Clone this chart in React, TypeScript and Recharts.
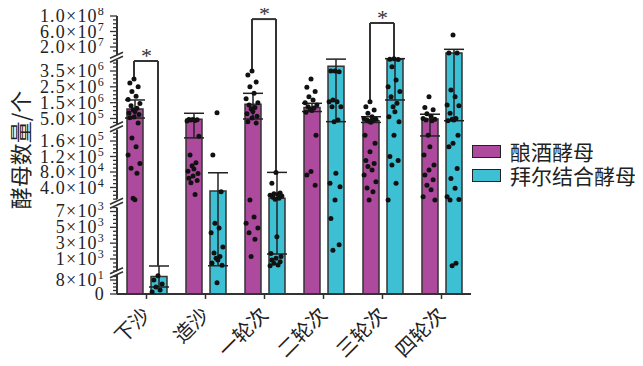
import React from 'react';
import { ComposedChart, Bar, XAxis, YAxis, Scatter, ErrorBar, ReferenceLine, ReferenceDot } from 'recharts';

// ---------------- data ----------------
const categories = ['下沙', '造沙', '一轮次', '二轮次', '三轮次', '四轮次'];
const seriesNames = ['酿酒酵母', '拜尔结合酵母'];

const yeastMean = [1.1e6, 4.5e5, 1.4e6, 1.2e6, 3.6e5, 4.7e5];
const yeastLow = [5.3e5, 1.68e5, 4.7e5, 9.4e5, 2.5e5, 1.73e5];
const yeastHigh = [1.67e6, 8.3e5, 2.09e6, 1.46e6, 6.1e5, 7.7e5];

const bayMean = [100, 3.1e4, 1.2e4, 3.8e6, 4.25e6, 4.5e6];
const bayLow = [40, 150, 1.63e3, 3.0e5, 1.67e6, 3.6e5];
const bayHigh = [115, 7.8e4, 7.9e4, 4.25e6, 4.28e6, 1.4e7];

const yeastDots = [
  [3.0e6, 2.75e6, 2.5e6, 2.2e6, 1.9e6, 1.7e6, 1.45e6, 1.3e6, 1.15e6, 1.05e6, 9.5e5, 8.5e5, 7.5e5, 6e5, 5.5e5, 2.2e5, 1.68e5, 1.45e5, 1.24e5, 1.02e5, 9e4, 7.7e4, 1.2e4, 8.5e3],
  [4.4e5, 4.3e5, 4.2e5, 4.0e5, 3.7e5, 3.4e5, 1.72e5, 1.24e5, 1.04e5, 9.6e4, 8.8e4, 8.2e4, 7.6e4, 7e4, 6.4e4, 5.8e4, 5.2e4, 2.2e4],
  [3.5e6, 3.25e6, 2.8e6, 2.5e6, 2.1e6, 1.75e6, 1.5e6, 1.35e6, 1.2e6, 1.1e6, 9.5e5, 8e5, 6.5e5, 5.3e5, 3e5, 2.1e5, 8e3, 6.3e3, 5.5e3, 4.9e3, 4.3e3, 3.5e3, 1.3e3],
  [3.0e6, 2.47e6, 2.2e6, 1.88e6, 1.67e6, 1.5e6, 1.35e6, 1.25e6, 1.16e6, 1.1e6, 1.0e6, 9e5, 1.75e5, 8.1e4, 7.2e4, 4.6e4],
  [1.56e6, 1.25e6, 1.04e6, 8.3e5, 6.1e5, 5e5, 4.5e5, 4e5, 3.6e5, 3.2e5, 2.6e5, 1.75e5, 1.54e5, 1.32e5, 1.1e5, 1.02e5, 9.4e4, 8.5e4, 7.2e4, 5.5e4, 3.9e4, 2.9e4, 8e3],
  [1.88e6, 1.2e6, 1.05e6, 8e5, 6.5e5, 5e5, 4.5e5, 4e5, 3.5e5, 1.75e5, 1.45e5, 1.24e5, 9.8e4, 8.5e4, 7.2e4, 6e4, 4.6e4, 3.4e4, 1.6e4, 8e3],
];
const bayDots = [
  [105, 80, 57, 40, 23, 11],
  [8.7e5, 1.24e5, 2.9e4, 5.5e3, 4.9e3, 4.3e3, 2.5e3, 1.76e3, 1.3e3, 1.1e3, 870, 500, 200, 65],
  [7.9e4, 5.1e4, 2.6e4, 2.4e4, 2.2e4, 2e4, 1.8e4, 1.5e4, 1.2e4, 1e4, 3.8e3, 1.7e3, 1.3e3, 1.1e3, 870, 650, 450, 250, 150],
  [3.5e6, 3.5e6, 3.45e6, 1.67e6, 1.56e6, 1.56e6, 1.25e6, 1.25e6, 4e5, 3e5, 7.7e4, 5.1e4, 4.2e4, 8e3, 6.1e3, 2.8e3, 2.1e3],
  [4.28e6, 4.25e6, 4.22e6, 3.77e6, 2.93e6, 2.5e6, 2.2e6, 1.88e6, 1.46e6, 1.25e6, 9.3e5, 6.1e5, 3e5, 1.75e5, 1.2e5, 1.1e5, 9.8e4, 5.1e4, 8e3],
  [5.1e7, 4.6e6, 4.5e6, 2.3e6, 1.88e6, 1.35e6, 1.3e6, 8.3e5, 5e5, 4.5e5, 4e5, 3.5e5, 1.75e5, 1.54e5, 1.45e5, 8.9e4, 6.3e4, 3.8e4, 1.6e4, 9e3, 8e3, 460, 150],
];

// significance brackets: category index, top value, left end, right end
const sigCategory = [0, 2, 4];
const sigTop = [4.13e6, 9.2e7, 8.2e7];
const sigLeftEnd = [2.93e6, 3.6e6, 1.67e6];
const sigRightEnd = [112, 8e4, 4.3e6];

// y tick labels (mantissa, exponent)
const yTickLabels = [
  { v: 1e8, m: '1.0', e: '8' }, { v: 6e7, m: '6.0', e: '7' }, { v: 2e7, m: '2.0', e: '7' },
  { v: 3.5e6, m: '3.5', e: '6' }, { v: 2.5e6, m: '2.5', e: '6' }, { v: 1.5e6, m: '1.5', e: '6' }, { v: 5e5, m: '5.0', e: '5' },
  { v: 1.6e5, m: '1.6', e: '5' }, { v: 1.2e5, m: '1.2', e: '5' }, { v: 8e4, m: '8.0', e: '4' }, { v: 4e4, m: '4.0', e: '4' },
  { v: 7e3, m: '7', e: '3' }, { v: 5e3, m: '5', e: '3' }, { v: 3e3, m: '3', e: '3' }, { v: 1e3, m: '1', e: '3' },
  { v: 80, m: '8', e: '1' }, { v: 0, m: '0', e: '' },
];

// ---------------- broken-axis scale (value -> linear display units) ----------------
type Seg = { hi: number; base: number; at: number; k: number; axis: [number, number]; tick: [number, number, number] };
const SEGS: Seg[] = [
  { hi: 110, base: 0, at: 0, k: 0.175, axis: [0, 110], tick: [0, 100, 20] },
  { hi: 7800, base: 1000, at: 35, k: 0.0079167, axis: [-500, 7500], tick: [-500, 7500, 500] },
  { hi: 1.8e5, base: 4e4, at: 106.5, k: 3.875e-4, axis: [1e4, 1.9e5], tick: [1e4, 1.8e5, 1e4] },
  { hi: 4.3e6, base: 5e5, at: 175.5, k: 1.58333e-5, axis: [1.5e5, 4.2e6], tick: [2.5e5, 4e6, 2.5e5] },
  { hi: Infinity, base: 2e7, at: 247, k: 3.875e-7, axis: [0, 1e8], tick: [1e7, 1e8, 1e7] },
];
const segD = (s: Seg, v: number) => s.at + (v - s.base) * s.k;
const D = (v: number) => segD(SEGS.find((s) => v <= s.hi) as Seg, v);
const D_MAX = 278;

type Tick = { d: number; kind: 'major' | 'minor' | 'break'; m?: string; e?: string };
const TICKS: Tick[] = [];
SEGS.forEach((s) => {
  const [t0, t1, st] = s.tick;
  for (let v = t0; v <= t1 + st * 1e-6; v += st) {
    const d = segD(s, v);
    const lab = yTickLabels.find((l) => Math.abs(D(l.v) - d) < 0.05);
    TICKS.push(lab ? { d, kind: 'major', m: lab.m, e: lab.e } : { d, kind: 'minor' });
  }
});
for (let i = 0; i < SEGS.length - 1; i++) {
  const a = segD(SEGS[i], SEGS[i].axis[1]);
  const b = segD(SEGS[i + 1], SEGS[i + 1].axis[0]);
  TICKS.push({ d: (a + b) / 2, kind: 'break' });
}

// ---------------- derived chart data ----------------
const rows = categories.map((name, i) => ({
  name,
  a: D(yeastMean[i]),
  aErr: [D(yeastMean[i]) - D(yeastLow[i]), D(yeastHigh[i]) - D(yeastMean[i])],
  b: D(bayMean[i]),
  bErr: [D(bayMean[i]) - D(bayLow[i]), D(bayHigh[i]) - D(bayMean[i])],
}));

const LEFT_OFF = -12.5 / 59;
const RIGHT_OFF = 11.5 / 59;
const JIT = [0, -0.07, 0.07, -0.035, 0.035, -0.1, 0.1, -0.05, 0.05, -0.015, 0.015, -0.085, 0.085];
const makeDots = (groups: number[][], off: number) =>
  groups.flatMap((vals, i) => vals.map((v, j) => ({ x: i + 0.5 + off + JIT[j % JIT.length], y: D(v) })));
const dotsA = makeDots(yeastDots, LEFT_OFF);
const dotsB = makeDots(bayDots, RIGHT_OFF);

const MAGENTA = '#AE4A9E';
const CYAN = '#3DBFD4';
const AX = '#333';

const YTick = (props: any) => {
  const { x, y, payload } = props;
  const t = TICKS.find((tk) => Math.abs(tk.d - payload.value) < 1e-6);
  if (!t) return null;
  if (t.kind === 'break') {
    return (
      <g stroke={AX} strokeWidth={1.6}>
        <line x1={x - 7} y1={y + 1} x2={x + 6} y2={y - 5} />
        <line x1={x - 7} y1={y + 5} x2={x + 6} y2={y - 1} />
      </g>
    );
  }
  const len = t.kind === 'major' ? 7 : 4;
  return (
    <g>
      <line x1={x - len} y1={y} x2={x} y2={y} stroke={AX} strokeWidth={1.3} />
      {t.kind === 'major' && (
        <text x={x - 12} y={y + 6} textAnchor="end" fontFamily="Liberation Serif" fontSize={18} letterSpacing={1.2} fill="#222">
          {t.m}
          {t.e ? '×10' : ''}
          {t.e ? (
            <tspan dy={-7} fontSize={12}>
              {t.e}
            </tspan>
          ) : null}
        </text>
      )}
    </g>
  );
};

const XTick = (props: any) => {
  const { x, y, payload } = props;
  const ax = x + 5;
  const ay = y + 15;
  return (
    <text x={ax} y={ay} transform={`rotate(-45, ${ax}, ${ay})`} textAnchor="end" fontSize={20} fontFamily="Noto Sans CJK SC" fill="#222">
      {payload.value}
    </text>
  );
};

const Star = (props: any) => (
  <text x={props.cx} y={props.cy + 2} textAnchor="middle" fontSize={22} fontFamily="Liberation Serif" fill="#333">
    *
  </text>
);

const Dot = (props: any) => <circle cx={props.cx} cy={props.cy} r={2.5} fill="#111" />;

const axisSegs = SEGS.map((s) => [segD(s, s.axis[0]), Math.min(segD(s, s.axis[1]), D_MAX)]);

export default function App() {
  return (
    <div style={{ position: 'relative', width: 627, height: 350 }}>
      <ComposedChart
        width={627}
        height={350}
        data={rows}
        margin={{ top: 8, right: 164, bottom: 4, left: 49 }}
        barGap={8}
      >
        <XAxis
          xAxisId="cat"
          dataKey="name"
          type="category"
          axisLine={{ stroke: AX, strokeWidth: 2 }}
          tickLine={{ stroke: AX, strokeWidth: 1.5 }}
          tickSize={5}
          tickMargin={2}
          tick={<XTick />}
          interval={0}
          height={60}
        />
        <XAxis xAxisId="num" dataKey="x" type="number" domain={[0, 6]} hide allowDataOverflow />
        <YAxis
          type="number"
          domain={[0, D_MAX]}
          allowDataOverflow
          ticks={TICKS.map((t) => t.d)}
          interval={0}
          axisLine={false}
          tickLine={false}
          tickSize={0}
          tickMargin={0}
          tick={<YTick />}
          width={60}
          label={{
            content: () => (
              <text transform="translate(11,142) rotate(-90)" textAnchor="middle" dominantBaseline="central" fontSize={22} fontFamily="Noto Sans CJK SC" fill="#222">
                酵母数量/个
              </text>
            ),
          }}
        />
        {axisSegs.map(([a, b], i) => (
          <ReferenceLine key={'ax' + i} xAxisId="num" ifOverflow="visible" stroke={AX} strokeWidth={2}
            segment={[{ x: 0, y: a }, { x: 0, y: b }]} />
        ))}
        <Bar xAxisId="cat" dataKey="a" name={seriesNames[0]} fill={MAGENTA} stroke={AX} strokeWidth={1.5} barSize={16} isAnimationActive={false}>
          <ErrorBar dataKey="aErr" width={10} stroke="#222" strokeWidth={1.5} direction="y" />
        </Bar>
        <Bar xAxisId="cat" dataKey="b" name={seriesNames[1]} fill={CYAN} stroke={AX} strokeWidth={1.5} barSize={16} isAnimationActive={false}>
          <ErrorBar dataKey="bErr" width={10} stroke="#222" strokeWidth={1.5} direction="y" />
        </Bar>
        <Scatter xAxisId="num" data={dotsA} dataKey="y" shape={<Dot />} isAnimationActive={false} />
        <Scatter xAxisId="num" data={dotsB} dataKey="y" shape={<Dot />} isAnimationActive={false} />
        {sigCategory.map((c, i) => {
          const xl = c + 0.5 + LEFT_OFF;
          const xr = c + 0.5 + RIGHT_OFF;
          const yt = D(sigTop[i]);
          return (
            <React.Fragment key={'sig' + i}>
              <ReferenceLine xAxisId="num" ifOverflow="visible" stroke={AX} strokeWidth={2}
                segment={[{ x: xl, y: D(sigLeftEnd[i]) }, { x: xl, y: yt }]} />
              <ReferenceLine xAxisId="num" ifOverflow="visible" stroke={AX} strokeWidth={2}
                segment={[{ x: xl, y: yt }, { x: xr, y: yt }]} />
              <ReferenceLine xAxisId="num" ifOverflow="visible" stroke={AX} strokeWidth={2}
                segment={[{ x: xr, y: yt }, { x: xr, y: D(sigRightEnd[i]) }]} />
              <ReferenceDot xAxisId="num" x={c + 0.5} y={yt} ifOverflow="visible" shape={<Star />} />
            </React.Fragment>
          );
        })}
      </ComposedChart>
      <div style={{ position: 'absolute', left: 464, top: 131, fontFamily: 'Noto Sans CJK SC', fontSize: 21, color: '#222' }}>
        {seriesNames.map((n, i) => (
          <div key={n} style={{ display: 'flex', alignItems: 'center', height: 24, whiteSpace: 'nowrap' }}>
            <span style={{ display: 'inline-block', width: 27, height: 11, background: i === 0 ? MAGENTA : CYAN, border: '1.5px solid #222', marginRight: 9 }} />
            <span style={{ lineHeight: '24px' }}>{n}</span>
          </div>
        ))}
      </div>
    </div>
  );
}
